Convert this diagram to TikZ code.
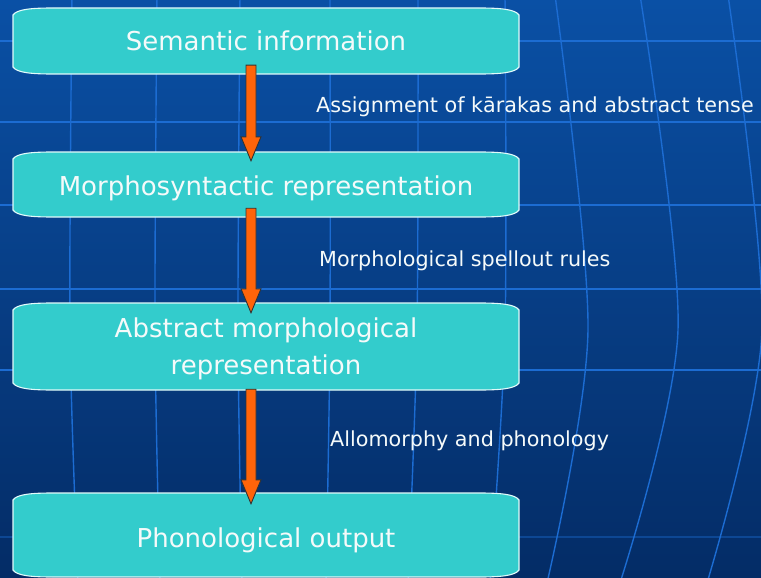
\documentclass[tikz,border=0pt]{standalone}
\usepackage{fontspec}
\setmainfont{DejaVu Sans}
\usetikzlibrary{calc}
\definecolor{bgtop}{RGB}{10,80,165}
\definecolor{bgbot}{RGB}{4,44,102}
\definecolor{gridc}{RGB}{28,108,210}
\definecolor{boxfill}{RGB}{51,204,204}
\definecolor{boxline}{RGB}{225,250,250}
\definecolor{arrfill}{RGB}{255,100,10}
\definecolor{txt}{RGB}{245,250,250}
\tikzset{
 boxshape/.style={fill=boxfill, draw=boxline, line width=1.1pt},
 boxnode/.style={rectangle, inner sep=0pt, minimum width=506pt, text=txt, font=\fontsize{26}{37}\selectfont, align=center},
 lbl/.style={anchor=west, inner sep=0pt, text=txt, font=\fontsize{20.7}{24}\selectfont, text height=15.1pt, text depth=0pt},
 arrowsty/.style={fill=arrfill, draw=black!80, line width=0.9pt, line join=miter},
 gridline/.style={draw=gridc, line width=1.4pt},
}
\newcommand\wavyshape[4]{%
 \path[boxshape] (#1,#2+7) .. controls (#1+4,#2+1) and (#1+20,#2) .. (#1+40,#2) -- (#3-40,#2) .. controls (#3-20,#2) and (#3-4,#2+1) .. (#3,#2+7) -- (#3,#4-7) .. controls (#3-4,#4-1) and (#3-20,#4) .. (#3-40,#4) -- (#1+40,#4) .. controls (#1+20,#4) and (#1+4,#4-1) .. (#1,#4-7) -- cycle;}
\newcommand\flowarrow[4]{%
 \filldraw[arrowsty] let \p1=(#1.south -| ax), \p2=(#2.north -| ax) in
 (\x1-5pt,\y1+#3pt) -- (\x1+5pt,\y1+#3pt) -- (\x1+5pt,\y2-#4pt+24pt) -- (\x1+10pt,\y2-#4pt+24pt) -- (\x1,\y2-#4pt) -- (\x1-10pt,\y2-#4pt+24pt) -- (\x1-5pt,\y2-#4pt+24pt) -- cycle;}
\begin{document}
\begin{tikzpicture}[x=1pt,y=-1pt]
\useasboundingbox (0,0) rectangle (761,578);
\shade[top color=bgtop, bottom color=bgbot] (0,0) rectangle (761,578);
\begin{scope}
\clip (0,0) rectangle (761,578);
\foreach \yy in {41,122,205,289,370} \draw[gridline] (0,\yy) -- (761,\yy);
\draw[gridline, draw opacity=0.4] (0,537) -- (761,537);
\foreach \a/\b/\c in {72/70/78,157/155/160,240/238/242,330/330/326,418/417/408,505/505/490,555/588/547,640/678/620,728/762/707}
  \draw[gridline] plot[smooth] coordinates {(\a,-5) (\b,330) (\c,583)};
\end{scope}
\coordinate (ax) at (251,0);
\wavyshape{13}{8}{519}{74}
\node[boxnode, minimum height=66pt, text height=20pt, text depth=0pt] (sem) at (266,41) {Semantic information};
\wavyshape{13}{152}{519}{217}
\node[boxnode, minimum height=65pt, text height=21.5pt, text depth=0pt] (morph) at (266,184.5) {Morphosyntactic representation};
\wavyshape{13}{303}{519}{390}
\node[boxnode, minimum height=87pt, text height=56pt, text depth=0pt] (abs) at (266,346.5) {Abstract morphological\\representation};
\wavyshape{13}{493}{519}{577}
\node[boxnode, minimum height=84pt, text height=24pt, text depth=0pt] (phon) at (266,535) {Phonological output};
\flowarrow{sem}{morph}{9}{9}
\flowarrow{morph}{abs}{9}{10}
\flowarrow{abs}{phon}{1}{11}
\node[lbl] (l1) at (316,105) {Assignment of kārakas and abstract tense};
\node[lbl] (l2) at (319,259) {Morphological spellout rules};
\node[lbl] (l3) at (330,439) {Allomorphy and phonology};
\end{tikzpicture}
\end{document}
